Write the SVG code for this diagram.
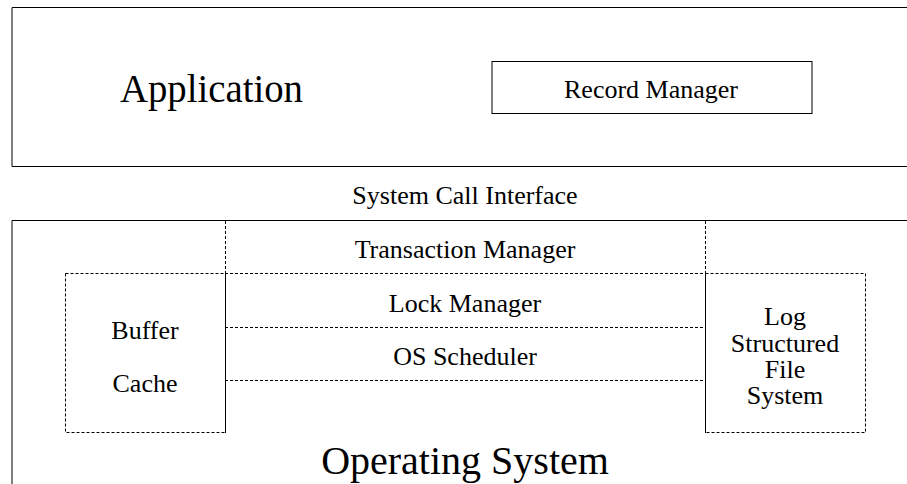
<svg xmlns="http://www.w3.org/2000/svg" width="907" height="484" viewBox="0 0 907 484">
<style>
text{font-family:"Liberation Serif","Times New Roman",Times,serif;fill:#000;text-anchor:middle}
.solid{fill:none;stroke:#000;stroke-width:1}
.dash{fill:none;stroke:#000;stroke-width:1;stroke-dasharray:3 2}
.mid{font-size:26px}
.big{font-size:41px}
</style>
<rect width="907" height="484" fill="#fff"/>
<g id="application">
<path class="solid" d="M907,7.5 H12 V166.5 H907"/>
<text class="big" x="211.5" y="102" textLength="183" lengthAdjust="spacingAndGlyphs">Application</text>
</g>
<g id="record-manager">
<rect class="solid" x="492" y="61.5" width="320" height="52"/>
<text class="mid" x="651" y="98">Record Manager</text>
</g>
<g id="system-call-interface">
<text class="mid" x="465" y="204">System Call Interface</text>
</g>
<g id="operating-system">
<path class="solid" d="M907,220.5 H12 V484"/>
<text style="font-size:40px" x="465" y="474">Operating System</text>
</g>
<g id="transaction-manager">
<text class="mid" x="465" y="258">Transaction Manager</text>
</g>
<g id="lock-manager">
<text class="mid" x="465" y="312">Lock Manager</text>
</g>
<g id="os-scheduler">
<text class="mid" x="465" y="365">OS Scheduler</text>
</g>
<g id="buffer-cache">
<rect class="dash" x="65.5" y="273.5" width="160" height="159"/>
<text class="mid" x="145" y="339">Buffer</text>
<text class="mid" x="145" y="392">Cache</text>
</g>
<g id="log-structured-file-system">
<rect class="dash" x="705.5" y="273.5" width="160" height="159"/>
<text class="mid" x="785" y="325">Log</text>
<text class="mid" x="785" y="352">Structured</text>
<text class="mid" x="785" y="378">File</text>
<text class="mid" x="785" y="404">System</text>
</g>
<g id="connectors">
<path class="dash" d="M225.5,221 V433 M705.5,221 V433 M225,273.5 H705 M225,327.5 H705 M225,380.5 H705"/>
</g>
</svg>
